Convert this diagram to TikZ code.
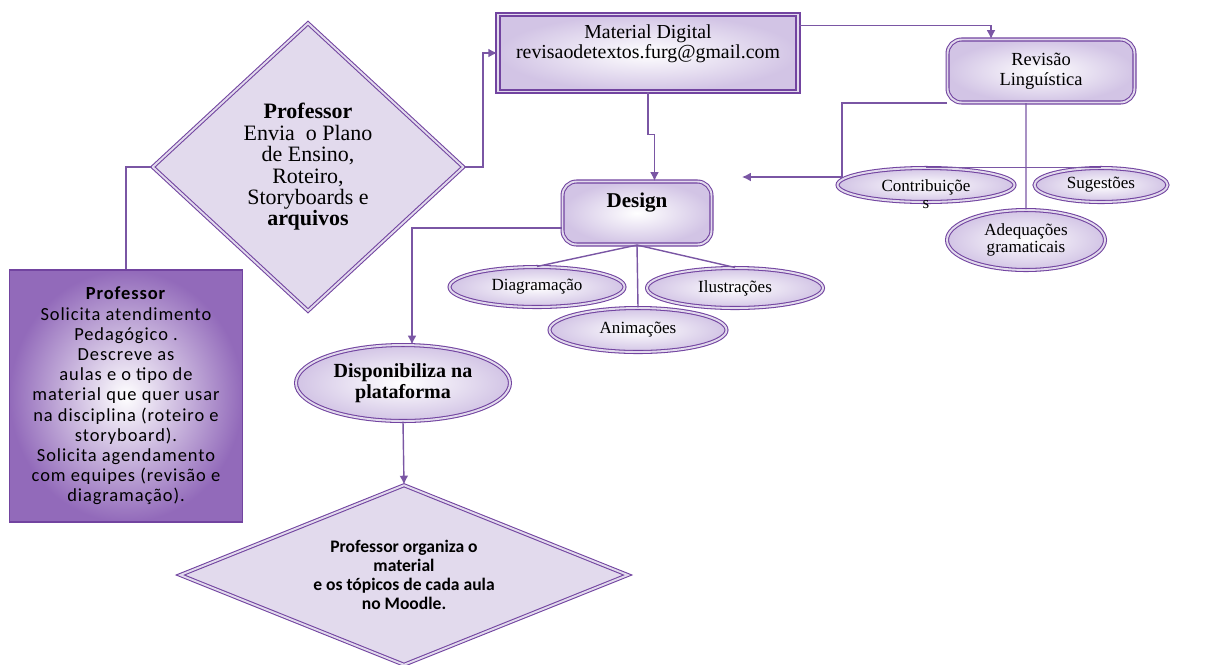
\documentclass[tikz,border=0pt]{standalone}
\usepackage{fontspec}
\setmainfont{Liberation Serif}
\newfontfamily\calibri{Carlito}
\newfontfamily\calibriwide[LetterSpace=5]{Carlito}
\usetikzlibrary{arrows.meta,shapes.geometric}
\definecolor{violetline}{RGB}{122,86,164}
\definecolor{violetedge}{RGB}{114,68,160}
\definecolor{lilacfill}{RGB}{226,218,237}
\definecolor{lilacshade}{RGB}{210,196,229}
\definecolor{plumshade}{RGB}{146,106,186}

\begin{document}
\begin{tikzpicture}[x=0.02cm,y=-0.02cm,
  every node/.style={align=center,inner sep=0pt},
  link/.style={violetline,thick},
  arr/.style={link,-{Latex[length=5pt,width=5pt]}},
  dbl/.style={draw=violetedge,double=lilacfill,double distance=1.1pt,line width=0.6pt},
  softbox/.style={dbl,inner color=white,outer color=lilacshade},
  oval/.style={softbox,ellipse,font=\fontsize{9.7}{10.5}\selectfont},
  rombo/.style={dbl,diamond,fill=lilacfill}]
\useasboundingbox (0,0) rectangle (1213,664);

\node[rectangle,draw=violetedge,line width=0.8pt,inner color=white,outer color=plumshade,
  minimum width=4.66cm,minimum height=5.04cm,font=\calibriwide\fontsize{10.5}{11.5}\selectfont]
  (prof) at (126,396) {\textbf{Professor}\\Solicita atendimento\\Pedagógico .\\Descreve as\\aulas e o tipo de\\material que quer usar\\na disciplina (roteiro e\\storyboard).\\Solicita agendamento\\com equipes (revisão e\\diagramação).};
\node[rombo,minimum width=6.22cm,minimum height=5.76cm,font=\fontsize{12.5}{12.2}\selectfont]
  (profd) at (308,167) {\textbf{Professor}\\Envia \ o Plano\\de Ensino,\\Roteiro,\\Storyboards e\\\textbf{arquivos}};
\node[softbox,line width=1pt,minimum width=6cm,minimum height=1.54cm,font=\fontsize{11.3}{11.5}\selectfont]
  (mat) at (648,53) {\raisebox{5pt}[\height][\depth]{\begin{tabular}{@{}c@{}}Material Digital\\revisaodetextos.furg@gmail.com\end{tabular}}};
\node[softbox,rounded corners=8pt,minimum width=3.74cm,minimum height=1.26cm,font=\fontsize{10.5}{11.3}\selectfont]
  (rev) at (1041,71) {Revisão\\Linguística};
\node[softbox,rounded corners=8pt,minimum width=2.98cm,minimum height=1.26cm,font=\bfseries\fontsize{12}{13}\selectfont]
  (des) at (637,213) {\raisebox{6pt}[\height][\depth]{Design}};

\node[oval,minimum width=3.54cm,minimum height=0.68cm] (contr) at (926,185)
  {\raisebox{-1.5pt}[\height][2.5pt]{\begin{tabular}[t]{@{}c@{}}Contribuiçõe\\[-1pt]s\end{tabular}}};
\node[oval,minimum width=2.66cm,minimum height=0.68cm] (sug) at (1101,185) {Sugestões};
\node[oval,minimum width=3.16cm,minimum height=1.2cm,font=\fontsize{9.7}{9.5}\selectfont] (adeq) at (1026,240) {Adequações\\gramaticais};
\node[oval,minimum width=3.5cm,minimum height=0.8cm] (diag) at (537,287) {Diagramação};
\node[oval,minimum width=3.52cm,minimum height=0.8cm] (ilus) at (735,288) {Ilustrações};
\node[oval,minimum width=3.54cm,minimum height=0.88cm] (anim) at (638,330) {Animações};
\node[oval,minimum width=4.28cm,minimum height=1.52cm,font=\bfseries\fontsize{11.4}{12}\selectfont]
  (disp) at (403,383) {Disponibiliza na\\plataforma};
\node[rombo,aspect=2.5,minimum width=8.96cm,minimum height=3.6cm,font=\calibri\bfseries\fontsize{10}{10.8}\selectfont]
  (orgd) at (404,575) {Professor organiza o\\material\\e os tópicos de cada aula\\no Moodle.};
\coordinate (revtip) at (742,177);

\draw[link] (prof.north) |- (profd.west);
\draw[arr] (profd.east) -- ++(19,0) |- (mat.west);
\draw[arr] ([yshift=-0.24cm]mat.north east) -| ([xshift=-1cm]rev.north);
\draw[arr] (mat.south) -- ++(0,42) -| ([xshift=0.35cm]des.north);
\draw[arr] (rev.south west) -- ++(-105,0) |- (revtip);
\draw[link] ([xshift=-0.3cm]rev.south) -- (adeq.north);
\draw[link] (contr.north) -- (sug.north);
\foreach \kid in {diag,anim,ilus} \draw[link] (des.south) -- (\kid.north);
\draw[arr] ([yshift=-0.3cm]des.west) -| ([xshift=0.18cm]disp.north);
\draw[arr] (disp.south) -- (orgd.north);
\end{tikzpicture}
\end{document}
